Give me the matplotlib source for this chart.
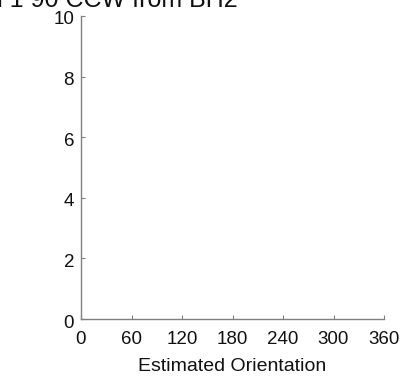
import matplotlib
matplotlib.use("Agg")
import matplotlib.pyplot as plt
import matplotlib.transforms as mtransforms

x_ticks = [0, 60, 120, 180, 240, 300, 360]
y_ticks = [0, 2, 4, 6, 8, 10]
title_text = "Tool 1 90 CCW from BH2"
xlabel_text = "Estimated Orientation"

plt.rcParams['font.family'] = ['Liberation Sans', 'DejaVu Sans']

fig = plt.figure(figsize=(4.06, 3.85), dpi=100)
W, H = 406, 385
ax = fig.add_axes([81 / W, 1 - 319 / H, (384 - 81) / W, (319 - 16) / H])
ax.set_xlim(0, 360)
ax.set_ylim(0, 10)
ax.set_xticks(x_ticks)
ax.set_yticks(y_ticks)
ax.tick_params(direction='in', length=3, width=0.8, color='#808080',
               labelsize=13.5, labelcolor='#111111', pad=4)
ax.tick_params(axis='x', pad=9)
ax.tick_params(axis='y', pad=5)
offset = mtransforms.ScaledTranslation(0, -2 / 100, fig.dpi_scale_trans)
for lab in ax.get_yticklabels():
    lab.set_transform(lab.get_transform() + offset)
for s in ['top', 'right']:
    ax.spines[s].set_visible(False)
for s in ['left', 'bottom']:
    ax.spines[s].set_color('#808080')
    ax.spines[s].set_linewidth(1.0)
ax.set_xlabel(xlabel_text, fontsize=14, color='#111111', labelpad=7)
fig.text(238 / W, 1 - 7 / H, title_text, ha='right', va='baseline',
         fontsize=18, color='#111111')
fig.savefig("out.png", dpi=100)
